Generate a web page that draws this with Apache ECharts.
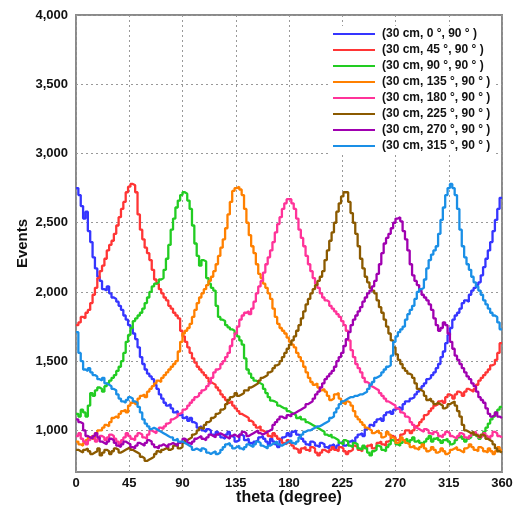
<!DOCTYPE html>
<html><head><meta charset="utf-8">
<script src="https://cdn.jsdelivr.net/npm/echarts@6/dist/echarts.min.js"></script>
<style>html,body{margin:0;padding:0;background:#fff}#c{width:520px;height:508px}</style>
</head><body><div id="c"></div>
<script>
const angles = [0,2,4,6,8,10,12,14,16,18,20,22,24,26,28,30,32,34,36,38,40,42,44,46,48,50,52,54,56,58,60,62,64,66,68,70,72,74,76,78,80,82,84,86,88,90,92,94,96,98,100,102,104,106,108,110,112,114,116,118,120,122,124,126,128,130,132,134,136,138,140,142,144,146,148,150,152,154,156,158,160,162,164,166,168,170,172,174,176,178,180,182,184,186,188,190,192,194,196,198,200,202,204,206,208,210,212,214,216,218,220,222,224,226,228,230,232,234,236,238,240,242,244,246,248,250,252,254,256,258,260,262,264,266,268,270,272,274,276,278,280,282,284,286,288,290,292,294,296,298,300,302,304,306,308,310,312,314,316,318,320,322,324,326,328,330,332,334,336,338,340,342,344,346,348,350,352,354,356,358];
const seriesNames = ['(30 cm, 0 °, 90 ° )','(30 cm, 45 °, 90 ° )','(30 cm, 90 °, 90 ° )','(30 cm, 135 °, 90 ° )','(30 cm, 180 °, 90 ° )','(30 cm, 225 °, 90 ° )','(30 cm, 270 °, 90 ° )','(30 cm, 315 °, 90 ° )'];
const colors = ['#3535ff','#ff3535','#22cc22','#ff8000','#ff3399','#8b5a00','#a000b0','#1a8fe6'];
const s0 = [2750,2700,2620,2530,2580,2440,2360,2250,2170,2110,2080,2020,2010,2040,1990,1960,1950,1930,1900,1870,1830,1800,1760,1740,1700,1660,1600,1530,1480,1440,1410,1390,1370,1330,1300,1260,1230,1200,1180,1190,1160,1130,1140,1110,1120,1090,1100,1070,1090,1060,1050,1020,1030,1000,990,1010,1000,970,960,990,970,950,940,970,990,960,950,920,930,970,960,930,940,910,900,920,930,950,960,940,920,900,940,920,900,880,930,950,960,980,960,990,1000,970,960,940,920,900,890,920,910,890,880,910,900,880,870,890,900,870,890,910,920,890,900,920,930,910,950,970,980,960,1010,1020,1040,1030,1060,1080,1090,1070,1110,1130,1140,1120,1150,1160,1170,1150,1190,1210,1210,1230,1240,1260,1280,1300,1320,1340,1370,1380,1400,1420,1450,1480,1530,1570,1630,1690,1740,1800,1830,1850,1880,1920,1940,1930,1980,2010,2030,2050,2070,2120,2180,2240,2300,2360,2440,2520,2600,2680];
const s45 = [1760,1780,1820,1810,1850,1870,1920,1980,2030,2100,2150,2190,2240,2300,2340,2370,2420,2480,2540,2600,2650,2720,2760,2780,2770,2720,2560,2450,2380,2320,2280,2230,2160,2090,2060,2020,1990,1960,1940,1900,1880,1850,1830,1810,1720,1680,1640,1600,1560,1520,1490,1460,1440,1420,1400,1380,1350,1340,1330,1310,1290,1260,1240,1220,1200,1210,1180,1160,1140,1120,1110,1100,1090,1070,1060,1040,1020,1030,1000,990,980,960,950,980,960,940,930,910,900,930,910,890,870,860,840,870,880,860,850,880,870,840,820,840,860,850,840,860,880,860,850,880,870,850,830,850,860,890,880,860,850,880,870,890,900,870,880,910,920,900,890,920,930,960,950,930,940,970,980,1000,1000,980,1000,1030,1040,1060,1080,1110,1120,1140,1160,1180,1190,1210,1215,1200,1240,1260,1250,1230,1260,1280,1270,1250,1280,1300,1290,1280,1300,1330,1360,1380,1400,1420,1440,1470,1480,1510,1560,1630];
const s90 = [1120,1100,1150,1130,1100,1180,1270,1250,1290,1310,1300,1280,1320,1340,1360,1380,1400,1430,1460,1500,1560,1640,1690,1740,1790,1810,1830,1850,1880,1920,1960,2000,2040,2060,2070,2090,2100,2160,2240,2340,2450,2530,2610,2660,2700,2720,2710,2660,2600,2480,2350,2260,2190,2230,2220,2100,2060,2030,2010,1900,1820,1800,1790,1760,1745,1730,1720,1700,1680,1650,1620,1520,1440,1410,1380,1360,1350,1340,1330,1300,1270,1240,1215,1210,1200,1180,1170,1160,1160,1140,1130,1120,1110,1090,1100,1080,1080,1060,1050,1040,1030,1020,1010,1000,990,970,960,970,950,940,930,910,900,930,920,890,880,910,900,870,860,890,870,840,820,850,860,890,880,860,850,880,900,930,920,900,890,910,930,940,910,930,950,920,930,910,900,920,940,960,920,940,950,930,910,930,940,920,900,910,930,950,960,940,920,940,950,970,980,960,940,960,990,1020,1050,1080,1100,1130,1150,1170];
const s135 = [920,900,890,910,930,950,960,940,980,1000,1000,1020,1040,1030,1060,1090,1100,1090,1120,1140,1150,1130,1180,1200,1210,1190,1230,1250,1260,1240,1280,1300,1320,1340,1360,1350,1380,1400,1420,1440,1460,1480,1500,1570,1640,1700,1720,1740,1770,1820,1870,1920,1960,1990,2020,2050,2080,2110,2150,2200,2260,2320,2380,2460,2560,2650,2730,2750,2760,2740,2700,2600,2500,2410,2330,2280,2200,2130,2100,2060,2030,1990,1950,1880,1820,1770,1740,1720,1700,1670,1640,1620,1600,1560,1530,1500,1460,1420,1380,1350,1330,1340,1310,1290,1300,1280,1250,1220,1230,1260,1270,1230,1200,1190,1210,1200,1180,1140,1100,1080,1060,1040,1020,1010,1000,980,990,1000,980,950,960,990,970,950,940,910,920,950,930,910,900,880,890,870,860,880,900,870,850,860,880,860,840,850,870,850,830,840,860,870,880,860,850,840,870,880,900,880,860,850,880,870,850,840,870,850,830,850,880,860];
const s180 = [960,980,940,920,900,930,950,940,920,940,960,950,930,950,970,960,940,920,900,930,950,980,960,940,930,960,980,970,950,940,970,1000,990,980,1000,1020,1010,1030,1050,1060,1080,1090,1100,1120,1130,1150,1160,1180,1200,1220,1240,1250,1270,1290,1300,1320,1340,1380,1420,1440,1450,1480,1500,1530,1560,1610,1660,1700,1750,1800,1830,1850,1860,1840,1880,1930,1990,2040,2080,2140,2200,2250,2300,2360,2430,2490,2540,2600,2640,2670,2670,2640,2600,2530,2450,2390,2330,2260,2200,2150,2100,2060,2030,1990,1960,1940,1930,1900,1880,1860,1840,1820,1790,1760,1720,1650,1580,1530,1480,1450,1420,1380,1350,1340,1320,1310,1300,1290,1270,1250,1230,1210,1200,1190,1180,1160,1150,1130,1120,1100,1090,1060,1040,1020,1010,1000,990,1010,1000,980,970,990,980,960,950,970,990,980,960,950,940,960,980,970,950,940,960,980,990,970,950,960,980,960,940,960,990,980,960,950];
const s225 = [860,850,840,860,870,850,830,840,850,870,820,840,860,850,830,850,870,860,840,850,860,870,880,860,850,840,830,810,800,780,790,800,810,830,850,840,860,870,880,860,870,890,900,870,880,910,930,940,950,970,980,1000,1020,1010,1040,1060,1070,1090,1100,1120,1130,1150,1160,1190,1220,1240,1250,1270,1250,1260,1270,1290,1290,1310,1320,1330,1340,1360,1380,1390,1400,1420,1430,1450,1470,1480,1500,1530,1560,1590,1620,1650,1680,1720,1760,1810,1860,1910,1950,1990,2020,2050,2080,2110,2150,2230,2300,2370,2430,2500,2580,2640,2690,2720,2720,2650,2570,2500,2420,2330,2240,2170,2110,2070,2030,2010,1990,1940,1890,1850,1800,1750,1700,1650,1600,1550,1510,1480,1450,1430,1410,1400,1380,1340,1300,1290,1280,1250,1220,1230,1210,1190,1200,1190,1180,1160,1170,1190,1200,1210,1180,1140,1100,1040,1000,990,980,990,970,960,950,970,960,940,930,920,900,870,850,840];
const s270 = [1080,1060,1050,1000,960,950,940,960,980,950,920,910,900,920,940,930,910,890,880,900,920,910,900,880,870,890,910,900,890,910,930,920,900,880,870,890,900,890,880,900,910,900,890,910,920,940,930,910,900,920,940,950,960,940,930,950,970,960,950,970,980,970,960,950,940,960,970,960,950,970,990,980,960,970,980,990,1000,980,970,980,990,1000,1010,1040,1060,1080,1100,1090,1090,1110,1100,1120,1130,1140,1150,1160,1170,1190,1200,1210,1230,1260,1280,1310,1340,1370,1390,1410,1430,1460,1500,1530,1560,1610,1660,1710,1760,1800,1830,1860,1890,1930,1960,1990,2010,2040,2080,2130,2200,2280,2350,2390,2420,2460,2500,2530,2540,2510,2440,2380,2300,2200,2120,2080,2050,2010,1980,1960,1940,1910,1870,1810,1760,1720,1740,1780,1760,1700,1640,1590,1540,1510,1480,1450,1420,1390,1370,1340,1320,1280,1240,1220,1200,1160,1120,1100,1110,1130,1100,1090];
const s315 = [1710,1560,1500,1440,1430,1450,1420,1400,1390,1370,1360,1380,1340,1330,1320,1300,1290,1260,1230,1210,1200,1220,1240,1230,1210,1200,1170,1130,1080,1050,1030,1010,1020,1010,1000,990,980,970,960,950,950,930,940,920,920,910,900,890,880,860,870,860,850,870,860,840,830,840,850,830,840,860,880,900,910,890,870,880,890,870,860,880,900,890,880,900,920,910,890,880,870,890,900,910,920,900,890,900,910,920,930,910,900,920,950,970,990,1000,1000,1010,1020,1030,1030,1040,1050,1060,1070,1090,1100,1130,1160,1190,1210,1220,1230,1240,1240,1250,1250,1260,1260,1270,1280,1300,1330,1350,1380,1390,1400,1420,1440,1460,1470,1540,1640,1680,1710,1730,1750,1800,1840,1870,1900,1950,2000,2020,2030,2090,2170,2230,2270,2300,2330,2420,2520,2610,2700,2750,2780,2750,2700,2600,2450,2330,2250,2200,2160,2110,2070,2040,2010,1980,1940,1910,1880,1850,1830,1820,1780,1730];
const yTicks = [1000,1500,2000,2500,3000,3500,4000];

const allSeries = [s0,s45,s90,s135,s180,s225,s270,s315];
allSeries.forEach((a,i)=>{ if(a.length!==angles.length) throw new Error('series '+i+' has '+a.length+' values'); });
const font = 'Liberation Sans, Arial, sans-serif';
const chart = echarts.init(document.getElementById('c'), null, {renderer:'canvas'});
chart.setOption({
  animation:false,
  backgroundColor:'#fff',
  grid:{left:76,right:18,top:15,bottom:36,outerBoundsMode:'none',containLabel:false,show:true,borderColor:'#8a8a8a',borderWidth:2,backgroundColor:'transparent'},
  legend:{
    orient:'vertical', left:331, top:26, icon:'rect', itemWidth:42, itemHeight:2, itemGap:4,
    backgroundColor:'#fff', padding:[2,4,2,2],
    textStyle:{fontFamily:font,fontWeight:'bold',fontSize:12,color:'#111',padding:[0,0,0,2]},
    data:seriesNames
  },
  xAxis:{type:'value',min:0,max:360,interval:45,
    name:'theta (degree)',nameLocation:'middle',nameGap:18,nameMoveOverlap:false,
    nameTextStyle:{fontFamily:font,fontWeight:'bold',fontSize:16,color:'#111'},
    axisLine:{show:false},axisTick:{show:false},
    axisLabel:{fontFamily:font,fontWeight:'bold',fontSize:13,color:'#111',margin:5},
    splitLine:{show:true,lineStyle:{color:'#999',type:[2,3],width:1}}
  },
  yAxis:{type:'value',min:700,max:4000,
    name:'Events',nameLocation:'middle',nameGap:46,nameMoveOverlap:false,
    nameTextStyle:{fontFamily:font,fontWeight:'bold',fontSize:15,color:'#111'},
    axisLine:{show:false},
    axisTick:{show:false,customValues:yTicks},
    axisLabel:{fontFamily:font,fontWeight:'bold',fontSize:13,color:'#111',margin:8,customValues:yTicks,
      formatter:v=>v.toLocaleString('en-US')},
    splitLine:{show:true,lineStyle:{color:'#999',type:[2,3],width:1}}
  },
  series:allSeries.map((arr,i)=>{
    const d = angles.map((a,j)=>[a,arr[j]]);
    d.push([360,arr[arr.length-1]]);
    return {name:seriesNames[i],type:'line',step:'end',data:d,symbol:'none',
      lineStyle:{color:colors[i],width:2.3},itemStyle:{color:colors[i]}};
  })
});
</script></body></html>
